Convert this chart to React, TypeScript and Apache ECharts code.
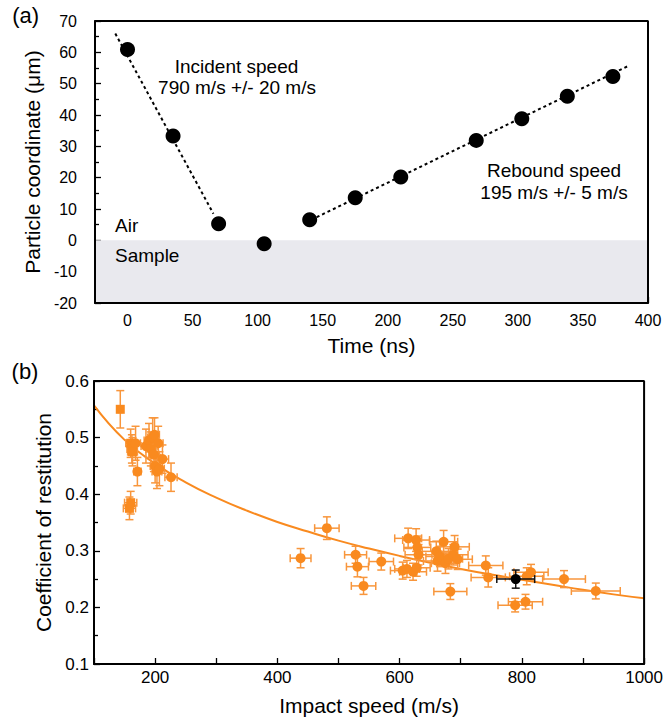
import React, { useEffect, useRef } from 'react';
import * as echarts from 'echarts';

// ---------- Panel (a): particle trajectory ----------
const timeNs = [0, 35, 70, 105, 140, 175, 210, 268, 303, 338, 373];
const coordUm = [60.9, 33.3, 5.3, -1.1, 6.6, 13.6, 20.2, 31.9, 38.8, 46.0, 52.3];
const incidentFitT = [-9.4, 66];
const incidentFitY = [66, 8.5];
const reboundFitT = [145.4, 386];
const reboundFitY = [7.4, 55.9];
const timeRange = [-25, 400];
const coordRange = [-20, 70];

// ---------- Panel (b): coefficient of restitution ----------
const fitSpeed = [100, 150, 200, 250, 300, 350, 400, 450, 500, 550, 600, 650, 700, 750, 800, 850, 900, 950, 1000];
const fitCoef = [0.557, 0.496, 0.454, 0.421, 0.394, 0.371, 0.351, 0.334, 0.318, 0.304, 0.291, 0.279, 0.268, 0.258, 0.249, 0.240, 0.231, 0.223, 0.216];
const speedRange = [100, 1000];
const coefRange = [0.1, 0.6];

// square markers
const sqSpeed = [143, 158, 160, 160, 162, 163];
const sqCoef = [0.550, 0.375, 0.385, 0.490, 0.480, 0.475];
const sqSpeedErr = [3, 10, 10, 8, 8, 8];
const sqCoefErr = [0.033, 0.02, 0.02, 0.025, 0.025, 0.025];

// circle markers
const cSpeed = [168, 171, 185, 190, 193, 196, 198, 199, 200, 203, 205, 207, 212, 226,
  438, 481, 528, 531, 541, 570, 605, 612, 614, 622, 627, 629, 631, 628,
  660, 662, 666, 672, 675, 680, 683, 688, 690, 695, 741, 745, 789, 806, 808, 815, 869, 921];
const cCoef = [0.490, 0.440, 0.485, 0.495, 0.480, 0.500, 0.470, 0.505, 0.450, 0.440, 0.490, 0.445, 0.462, 0.430,
  0.287, 0.340, 0.293, 0.272, 0.238, 0.281, 0.265, 0.268, 0.322, 0.263, 0.319, 0.306, 0.293, 0.270,
  0.299, 0.282, 0.290, 0.316, 0.278, 0.286, 0.228, 0.293, 0.307, 0.285, 0.274, 0.253, 0.204, 0.210, 0.255, 0.262, 0.250, 0.229];
const cSpeedErr = [8, 6, 8, 8, 8, 8, 8, 8, 8, 8, 8, 8, 10, 10,
  17, 20, 18, 18, 20, 20, 20, 20, 22, 22, 22, 22, 22, 22,
  23, 23, 23, 23, 23, 23, 27, 24, 24, 24, 28, 28, 28, 28, 28, 28, 35, 40];
const cCoefErr = [0.03, 0.025, 0.03, 0.03, 0.03, 0.035, 0.03, 0.03, 0.03, 0.03, 0.03, 0.03, 0.025, 0.025,
  0.017, 0.02, 0.015, 0.018, 0.015, 0.015, 0.015, 0.015, 0.018, 0.015, 0.02, 0.02, 0.018, 0.015,
  0.018, 0.018, 0.018, 0.02, 0.018, 0.018, 0.014, 0.018, 0.02, 0.018, 0.017, 0.017, 0.012, 0.013, 0.015, 0.014, 0.015, 0.014];

// reference (black) point
const refSpeed = [790];
const refCoef = [0.250];
const refSpeedErr = [31];
const refCoefErr = [0.016];

const FONT = 'Liberation Sans';
const ORANGE = '#F98A1F';
const ORANGE_BAR = '#F8963C';

// panel boxes (pixel layout)
const GRID_A = { left: 95, top: 21, width: 553, height: 282 };
const GRID_B = { left: 94, top: 381, width: 555, height: 283 };

const errorBarRender = (color: string) => (params: any, api: any) => {
  const x = api.value(0);
  const y = api.value(1);
  const ex = api.value(2);
  const ey = api.value(3);
  const l = api.coord([x - ex, y]);
  const r = api.coord([x + ex, y]);
  const t = api.coord([x, y + ey]);
  const b = api.coord([x, y - ey]);
  const cap = 4;
  const st = { stroke: color, lineWidth: 1.5 };
  return {
    type: 'group',
    children: [
      { type: 'line', shape: { x1: l[0], y1: l[1], x2: r[0], y2: r[1] }, style: st },
      { type: 'line', shape: { x1: t[0], y1: t[1], x2: b[0], y2: b[1] }, style: st },
      { type: 'line', shape: { x1: l[0], y1: l[1] - cap, x2: l[0], y2: l[1] + cap }, style: st },
      { type: 'line', shape: { x1: r[0], y1: r[1] - cap, x2: r[0], y2: r[1] + cap }, style: st },
      { type: 'line', shape: { x1: t[0] - cap, y1: t[1], x2: t[0] + cap, y2: t[1] }, style: st },
      { type: 'line', shape: { x1: b[0] - cap, y1: b[1], x2: b[0] + cap, y2: b[1] }, style: st },
    ],
  };
};

const zip2 = (a: number[], b: number[]) => a.map((v, i) => [v, b[i]]);
const zip4 = (a: number[], b: number[], c: number[], d: number[]) => a.map((v, i) => [v, b[i], c[i], d[i]]);

// closed outline along the axis extents of a panel
const boxData = (xr: number[], yr: number[]) => [
  [xr[0], yr[0]], [xr[1], yr[0]], [xr[1], yr[1]], [xr[0], yr[1]], [xr[0], yr[0]],
];

const txt = (text: string, x: number, y: number, size: number, align: string = 'center') => ({
  type: 'text',
  x,
  y,
  z: 20,
  style: {
    text,
    fill: '#000',
    font: `${size}px "${FONT}"`,
    fontSize: size,
    fontFamily: FONT,
    textAlign: align,
    align,
    textVerticalAlign: 'middle',
    verticalAlign: 'middle',
  },
});

const axisCommon = {
  axisLine: { show: true, onZero: false, lineStyle: { color: '#000', width: 2 } },
  axisTick: { show: true, inside: true, length: 6, lineStyle: { color: '#000', width: 1.3 } },
  splitLine: { show: false },
  nameLocation: 'middle' as const,
  nameTextStyle: { color: '#000', fontSize: 21, fontFamily: FONT },
};

export default function App() {
  const ref = useRef<HTMLDivElement>(null);
  useEffect(() => {
    document.body.style.margin = '0';
    if (!ref.current) return;
    const chart = echarts.init(ref.current, null, { renderer: 'svg' });
    const option: any = {
      animation: false,
      textStyle: { fontFamily: FONT, color: '#000' },
      grid: [GRID_A, GRID_B],
      xAxis: [
        {
          ...axisCommon,
          type: 'value', gridIndex: 0, position: 'bottom', min: timeRange[0], max: timeRange[1], interval: 25,
          name: 'Time (ns)', nameGap: 32,
          axisLabel: {
            color: '#000', fontSize: 16, fontFamily: FONT, margin: 9,
            formatter: (v: number) => (v % 50 === 0 ? String(v) : ''),
          },
        },
        {
          ...axisCommon,
          type: 'value', gridIndex: 1, position: 'bottom', min: speedRange[0], max: speedRange[1], interval: 100,
          name: 'Impact speed (m/s)', nameGap: 31,
          axisLabel: {
            color: '#000', fontSize: 17, fontFamily: FONT, margin: 5,
            formatter: (v: number) => (Math.round(v) % 200 === 0 ? String(Math.round(v)) : ''),
          },
        },
      ],
      yAxis: [
        {
          ...axisCommon,
          type: 'value', gridIndex: 0, position: 'left', min: coordRange[0], max: coordRange[1], interval: 10,
          name: 'Particle coordinate (μm)', nameGap: 40,
          minorTick: { show: true, splitNumber: 2, length: 4, lineStyle: { color: '#000', width: 1.3 } },
          axisLabel: { color: '#000', fontSize: 16, fontFamily: FONT, margin: 18 },
        },
        {
          ...axisCommon,
          type: 'value', gridIndex: 1, position: 'left', min: coefRange[0], max: coefRange[1], interval: 0.1,
          name: 'Coefficient of restitution', nameGap: 40,
          minorTick: { show: true, splitNumber: 2, length: 4, lineStyle: { color: '#000', width: 1.3 } },
          axisLabel: {
            color: '#000', fontSize: 17, fontFamily: FONT, margin: 5,
            formatter: (v: number) => v.toFixed(1),
          },
        },
      ],
      series: [
        {
          type: 'line', xAxisIndex: 0, yAxisIndex: 0, z: 1,
          data: zip2(incidentFitT, incidentFitY), symbol: 'none',
          lineStyle: { color: '#000', width: 2, type: [3, 3] },
          markArea: {
            silent: true,
            itemStyle: { color: '#E9E9EE' },
            data: [[{ yAxis: -20 }, { yAxis: 0 }]],
          },
        },
        {
          type: 'line', xAxisIndex: 0, yAxisIndex: 0, z: 2,
          data: zip2(reboundFitT, reboundFitY), symbol: 'none',
          lineStyle: { color: '#000', width: 2, type: [3, 3] },
        },
        {
          type: 'scatter', xAxisIndex: 0, yAxisIndex: 0, z: 3,
          data: zip2(timeNs, coordUm), symbol: 'circle', symbolSize: 15,
          itemStyle: { color: '#000', opacity: 1 },
        },
        {
          type: 'line', xAxisIndex: 0, yAxisIndex: 0, z: 10, clip: false, silent: true,
          data: boxData(timeRange, coordRange), symbol: 'none',
          lineStyle: { color: '#000', width: 2 },
        },
        {
          type: 'line', xAxisIndex: 1, yAxisIndex: 1, z: 1,
          data: zip2(fitSpeed, fitCoef), smooth: true, symbol: 'none',
          lineStyle: { color: ORANGE, width: 2 },
        },
        {
          type: 'custom', xAxisIndex: 1, yAxisIndex: 1, z: 2,
          renderItem: errorBarRender(ORANGE_BAR),
          encode: { x: 0, y: 1 },
          data: [...zip4(sqSpeed, sqCoef, sqSpeedErr, sqCoefErr), ...zip4(cSpeed, cCoef, cSpeedErr, cCoefErr)],
        },
        {
          type: 'scatter', xAxisIndex: 1, yAxisIndex: 1, z: 3,
          data: zip2(sqSpeed, sqCoef), symbol: 'rect', symbolSize: 9,
          itemStyle: { color: ORANGE, opacity: 1 },
        },
        {
          type: 'scatter', xAxisIndex: 1, yAxisIndex: 1, z: 3,
          data: zip2(cSpeed, cCoef), symbol: 'circle', symbolSize: 10,
          itemStyle: { color: ORANGE, opacity: 1 },
        },
        {
          type: 'custom', xAxisIndex: 1, yAxisIndex: 1, z: 4,
          renderItem: errorBarRender('#111'),
          encode: { x: 0, y: 1 },
          data: zip4(refSpeed, refCoef, refSpeedErr, refCoefErr),
        },
        {
          type: 'scatter', xAxisIndex: 1, yAxisIndex: 1, z: 5,
          data: zip2(refSpeed, refCoef), symbol: 'circle', symbolSize: 10,
          itemStyle: { color: '#000', opacity: 1 },
        },
        {
          type: 'line', xAxisIndex: 1, yAxisIndex: 1, z: 10, clip: false, silent: true,
          data: boxData(speedRange, coefRange), symbol: 'none',
          lineStyle: { color: '#000', width: 2 },
        },
      ],
      graphic: [
        txt('(a)', 25.7, 15, 22),
        txt('(b)', 25, 371, 22),
        txt('Incident speed', 236.5, 66.7, 19),
        txt('790 m/s +/- 20 m/s', 237, 87.3, 19),
        txt('Rebound speed', 554, 170, 19),
        txt('195 m/s +/- 5 m/s', 554, 192, 19),
        txt('Air', 115, 225, 19, 'left'),
        txt('Sample', 115, 255, 19, 'left'),
      ],
    };
    chart.setOption(option);
    return () => chart.dispose();
  }, []);
  return <div ref={ref} style={{ width: 666, height: 723 }} />;
}
